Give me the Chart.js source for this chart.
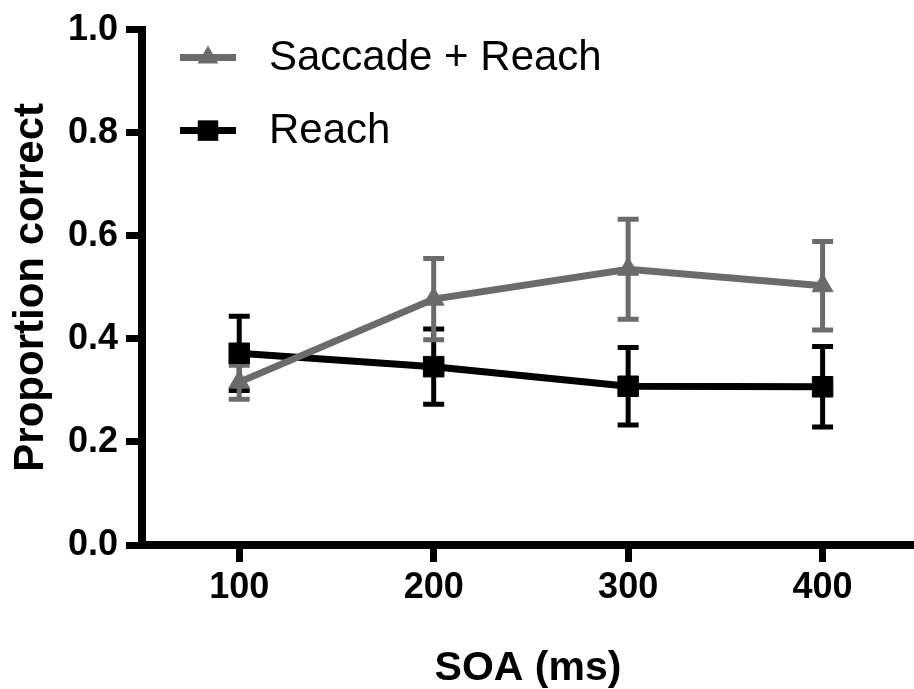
<!DOCTYPE html>
<html lang="en">
<head>
<meta charset="UTF-8">
<title>Proportion correct by SOA</title>
<script src="https://cdn.jsdelivr.net/npm/chart.js"></script>
<style>
  html, body { margin: 0; padding: 0; background: #fff; }
  canvas { display: block; }
</style>
</head>
<body>
<canvas id="chart" width="914" height="689"></canvas>
<script>
// data
const soa = [100, 200, 300, 400];
const saccadeReach = [0.316, 0.477, 0.535, 0.503];
const saccadeReachErr = [0.033, 0.079, 0.097, 0.086];
const reach = [0.372, 0.346, 0.308, 0.307];
const reachErr = [0.072, 0.073, 0.075, 0.078];
const yTicks = [0, 0.2, 0.4, 0.6, 0.8, 1.0];

const GREY = '#6b6b6b';
const BLACK = '#000000';
const FONT = "'Liberation Sans', Arial, Helvetica, sans-serif";

Chart.defaults.font.family = FONT;
Chart.defaults.color = '#000';

// vertical error bars with caps, drawn under the lines/markers
const errorBars = {
  id: 'errorBars',
  beforeDatasetsDraw(chart) {
    const { ctx, scales: { x, y } } = chart;
    for (let i = chart.data.datasets.length - 1; i >= 0; i--) {
      const ds = chart.data.datasets[i];
      if (!ds.errors) continue;
      ctx.save();
      ctx.strokeStyle = ds.borderColor;
      ctx.lineWidth = 5;
      ds.data.forEach((p, j) => {
        const px = x.getPixelForValue(p.x);
        const top = y.getPixelForValue(p.y + ds.errors[j]);
        const bot = y.getPixelForValue(p.y - ds.errors[j]);
        ctx.beginPath();
        ctx.moveTo(px, top); ctx.lineTo(px, bot);
        ctx.moveTo(px - 10.5, top); ctx.lineTo(px + 10.5, top);
        ctx.moveTo(px - 10.5, bot); ctx.lineTo(px + 10.5, bot);
        ctx.stroke();
      });
      ctx.restore();
    }
  }
};

// legend inside the plot: short line + marker, then the label
function marker(ctx, style, r, x, y) {
  ctx.beginPath();
  if (style === 'triangle') {
    ctx.moveTo(x, y - r);
    ctx.lineTo(x + r * Math.sin(Math.PI / 3), y + r / 2);
    ctx.lineTo(x - r * Math.sin(Math.PI / 3), y + r / 2);
    ctx.closePath();
  } else {
    const s = r * Math.SQRT1_2;
    ctx.rect(x - s, y - s, 2 * s, 2 * s);
  }
  ctx.fill();
}

const legendKey = {
  id: 'legendKey',
  afterDraw(chart) {
    const { ctx, chartArea } = chart;
    chart.data.datasets.forEach((ds, i) => {
      const cy = chartArea.top + 28 + i * 73;
      const x0 = chartArea.left + 38;
      ctx.save();
      ctx.strokeStyle = ds.borderColor;
      ctx.fillStyle = ds.borderColor;
      ctx.lineWidth = 7;
      ctx.beginPath();
      ctx.moveTo(x0, cy);
      ctx.lineTo(x0 + 56, cy);
      ctx.stroke();
      marker(ctx, ds.pointStyle, ds.pointRadius, x0 + 28, cy);
      ctx.fillStyle = '#000';
      ctx.font = '42px ' + FONT;
      ctx.textBaseline = 'middle';
      ctx.fillText(ds.label, x0 + 89, cy + 1);
      ctx.restore();
    });
  }
};

const toPoints = (vals) => vals.map((v, i) => ({ x: soa[i], y: v }));

new Chart(document.getElementById('chart'), {
  type: 'line',
  data: {
    datasets: [
      {
        label: 'Saccade + Reach',
        data: toPoints(saccadeReach),
        errors: saccadeReachErr,
        borderColor: GREY,
        backgroundColor: GREY,
        borderWidth: 7,
        pointStyle: 'triangle',
        pointRadius: 12,
        pointBorderWidth: 1,
        tension: 0
      },
      {
        label: 'Reach',
        data: toPoints(reach),
        errors: reachErr,
        borderColor: BLACK,
        backgroundColor: BLACK,
        borderWidth: 7,
        pointStyle: 'rect',
        pointRadius: 14.5,
        pointBorderWidth: 1,
        tension: 0
      }
    ]
  },
  options: {
    responsive: false,
    animation: false,
    events: [],
    layout: { autoPadding: false, padding: { top: 25, left: 0, right: 0, bottom: 0 } },
    plugins: {
      legend: { display: false },
      tooltip: { enabled: false }
    },
    scales: {
      x: {
        type: 'linear',
        min: 50,
        max: 447,
        afterBuildTicks: (s) => { s.ticks = soa.map(v => ({ value: v })); },
        afterFit: (s) => { s.height = 144; s.paddingLeft = 0; s.paddingRight = 0; },
        border: { color: '#000', width: 8 },
        grid: { drawOnChartArea: false, tickLength: 17, tickWidth: 7, tickColor: '#000' },
        ticks: {
          color: '#000',
          padding: 4,
          maxRotation: 0,
          font: { size: 36, weight: 'bold' }
        },
        title: {
          display: true,
          text: 'SOA (ms)',
          color: '#000',
          padding: 0,
          font: { size: 41, weight: 'bold', lineHeight: 1 }
        }
      },
      y: {
        min: 0,
        max: 1,
        afterBuildTicks: (s) => { s.ticks = yTicks.map(v => ({ value: v })); },
        afterFit: (s) => { s.width = 142; },
        border: { color: '#000', width: 8 },
        grid: { drawOnChartArea: false, tickLength: 16, tickWidth: 7, tickColor: '#000' },
        ticks: {
          color: '#000',
          padding: 8,
          callback: (v) => v.toFixed(1),
          font: { size: 36, weight: 'bold' }
        },
        title: {
          display: true,
          text: 'Proportion correct',
          color: '#000',
          padding: { top: 6, bottom: 0 },
          font: { size: 42, weight: 'bold', lineHeight: 1.2 }
        }
      }
    }
  },
  plugins: [errorBars, legendKey]
});
</script>
</body>
</html>
